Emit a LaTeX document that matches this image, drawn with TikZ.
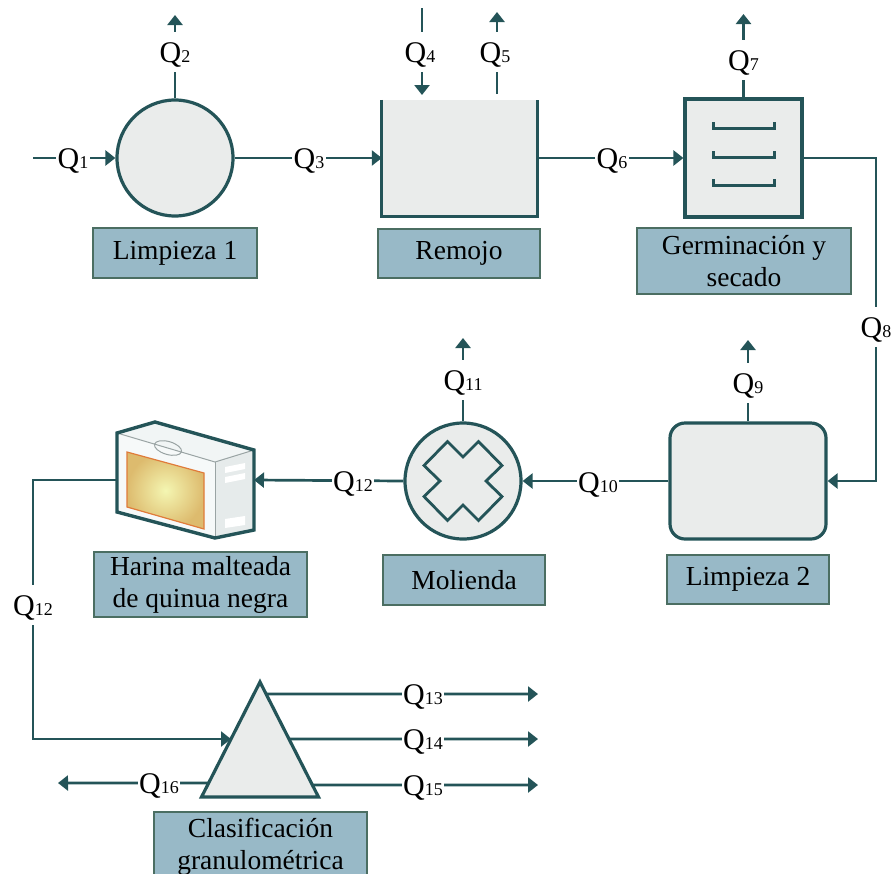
\documentclass[tikz,border=0pt]{standalone}
\usepackage{fontspec}
\setmainfont{Liberation Serif}
\usetikzlibrary{arrows.meta,calc}

\definecolor{flow}{HTML}{245458}
\definecolor{unitfill}{HTML}{EAECEB}
\definecolor{tagfill}{HTML}{98B9C7}
\definecolor{tagedge}{HTML}{4B6E62}
\definecolor{pkgfront}{HTML}{F6F9F9}
\definecolor{pkgtop}{HTML}{F1F5F5}
\definecolor{pkgside}{HTML}{E6EBEB}
\definecolor{pkgedge}{HTML}{9AA4A4}
\definecolor{winedge}{HTML}{E07B3A}
\definecolor{winin}{HTML}{F4F6B2}
\definecolor{winout}{HTML}{DDBB6E}

% flow label: "Q" with a small index on the same baseline
\newcommand\qtag[1]{Q{\fontsize{18}{18}\selectfont #1}}

\tikzset{
  flowline/.style={draw=flow, line width=2.7pt},
  flowarrow/.style={flowline, -{Triangle[length=10pt,width=15pt]}},
  unit/.style={draw=flow, fill=unitfill, line width=3.2pt, inner sep=0pt},
  tag/.style={draw=tagedge, fill=tagfill, line width=1.5pt, inner sep=0pt,
    font=\fontsize{27.5}{32}\selectfont, align=center},
  qlab/.style={fill=white, inner xsep=1.5pt, inner ysep=10pt,
    text height=20pt, text depth=0pt, font=\fontsize{30}{30}\selectfont},
}

\begin{document}
\begin{tikzpicture}[x=1pt,y=-1pt]
\useasboundingbox (0,0) rectangle (896,873);

% ---------- process units ----------
\node[unit, circle, minimum size=116pt] (lim1) at (175,158) {};

\node[fill=unitfill, minimum width=155pt, minimum height=116pt, inner sep=0pt] (rem) at (459.5,158) {};
\draw[draw=flow, line width=3.2pt] (rem.north west) -- (rem.south west) -- (rem.south east) -- (rem.north east);

\node[unit, minimum width=117pt, minimum height=118pt] (germ) at (743.5,158) {};
\foreach \yy in {-30,-1,27}{
  \draw[draw=flow, line width=3pt, shift={(germ.center)}] (-30.5,\yy-6) -- (-30.5,\yy) -- (30.5,\yy) -- (30.5,\yy-6);
}

\node[unit, rounded corners=15pt, minimum width=156pt, minimum height=116pt] (lim2) at (748,481) {};

\node[unit, circle, minimum size=116pt] (mol) at (463,481) {};
\draw[draw=flow, line width=2.8pt, line join=miter, shift={(mol.center)}]
  (-15.5,-39.5) -- (0,-24) -- (15.5,-39.5) -- (39,-15.5) -- (23,0) -- (39,15.5)
  -- (15.5,39.5) -- (0,24) -- (-15.5,39.5) -- (-39,15.5) -- (-23,0) -- (-39,-15.5) -- cycle;

% flour package
\node[inner sep=0pt, outer sep=0pt, minimum width=137pt, minimum height=116pt] (pkg) at (185.5,480) {};
\fill[pkgfront] (117,433) -- (215,462) -- (215,538) -- (117,512) -- cycle;
\fill[pkgtop] (117,433) -- (155,422) -- (254,450) -- (215,462) -- cycle;
\fill[pkgside] (215,462) -- (254,450) -- (254,530) -- (215,538) -- cycle;
\draw[draw=winedge, line width=1.2pt, shading=radial, inner color=winin, outer color=winout]
  (127,452) -- (204,473) -- (204,529) -- (127,507) -- cycle;
\fill[white] (225,467) -- (245,463) -- (245,469) -- (225,473) -- cycle;
\fill[white] (225,477) -- (245,473) -- (245,479) -- (225,483) -- cycle;
\fill[white] (225,519) -- (245,516) -- (245,525) -- (225,528) -- cycle;
\draw[pkgedge, line width=1pt] (117,433) -- (215,462) -- (254,450);
\draw[pkgedge, line width=1pt] (215,462) -- (215,538);
\draw[pkgedge, line width=1pt, rotate around={-16:(168,448)}] (168,448) ellipse [x radius=14, y radius=6.5];
\draw[draw=flow, line width=3.4pt, line join=miter]
  (117,433) -- (155,422) -- (254,450) -- (254,530) -- (215,538) -- (117,512) -- cycle;

% classifier
\coordinate (cA) at (260,682);
\coordinate (cL) at (201.5,797);
\coordinate (cR) at (318.5,797);
\draw[unit, line join=miter] (cA) -- (cR) -- (cL) -- cycle;
\coordinate (cin)  at ($(cA)!0.4957!(cL)$);
\coordinate (c16)  at ($(cA)!0.878!(cL)$);
\coordinate (c13)  at ($(cA)!0.104!(cR)$);
\coordinate (c14)  at ($(cA)!0.4957!(cR)$);
\coordinate (c15)  at ($(cA)!0.896!(cR)$);

% ---------- unit names ----------
\node[tag, minimum width=164pt, minimum height=50pt] (t1) at (175,253) {Limpieza 1};
\node[tag, minimum width=162pt, minimum height=49pt] (t2) at (459,253.5) {Remojo};
\node[tag, minimum width=214pt, minimum height=66pt] (t3) at (744,261) {Germinación y\\secado};
\node[tag, minimum width=162pt, minimum height=49pt] (t4) at (748,579.5) {Limpieza 2};
\node[tag, minimum width=162pt, minimum height=50pt] (t5) at (464,580) {Molienda};
\node[tag, minimum width=213pt, minimum height=65pt] (t6) at (200.5,584.5) {Harina malteada\\de quinua negra};
\node[tag, minimum width=213pt, minimum height=70pt] (t7) at (260.5,847) {Clasificación\\granulométrica};

% ---------- stream ends ----------
\coordinate (s1) at (33,158);
\coordinate (s2) at (175,15);
\coordinate (s4a) at (422,8);
\coordinate (s4b) at (422,95);
\coordinate (s5a) at (497,94);
\coordinate (s5b) at (497,12);
\coordinate (s7) at (743.5,14);
\coordinate (b8) at (876,320);
\coordinate (s9) at (748,340);
\coordinate (s11) at (463,338);
\coordinate (b12) at (33,600);
\coordinate (s13) at (538,694);
\coordinate (s14) at (538,739);
\coordinate (s15) at (538,785);
\coordinate (s16) at (58,783);

% ---------- streams ----------
\draw[flowarrow] (s1) -- (lim1.west);
\draw[flowarrow] (lim1.north) -- (s2);
\draw[flowarrow] (lim1.east) -- (rem.west);
\draw[flowarrow] (s4a) -- (s4b);
\draw[flowarrow] (s5a) -- (s5b);
\draw[flowarrow] (rem.east) -- (germ.west);
\draw[flowarrow] (germ.north) -- (s7);
\draw[flowarrow] (germ.east) -| (b8) |- (lim2.east);
\draw[flowarrow] (lim2.north) -- (s9);
\draw[flowarrow] (lim2.west) -- (mol.east);
\draw[flowarrow] (mol.north) -- (s11);
\draw[flowarrow] (mol.west) -- (pkg.east);
\draw[flowarrow] (pkg.west) -| (b12) |- (cin);
\draw[flowarrow] (c13) -- (s13);
\draw[flowarrow] (c14) -- (s14);
\draw[flowarrow] (c15) -- (s15);
\draw[flowarrow] (c16) -- (s16);

% ---------- stream labels ----------
\node[qlab] (q1) at (73,158) {\qtag{1}};
\node[qlab] (q2) at (175,52) {\qtag{2}};
\node[qlab] (q3) at (309,158) {\qtag{3}};
\node[qlab] (q4) at (420,52) {\qtag{4}};
\node[qlab] (q5) at (495,52) {\qtag{5}};
\node[qlab] (q6) at (612,158) {\qtag{6}};
\node[qlab] (q7) at (743.5,60) {\qtag{7}};
\node[qlab] (q8) at (876,327) {\qtag{8}};
\node[qlab] (q9) at (748,383) {\qtag{9}};
\node[qlab] (q10) at (598,482) {\qtag{10}};
\node[qlab] (q11) at (463,380) {\qtag{11}};
\node[qlab] (q12) at (353,481) {\qtag{12}};
\node[qlab] (q12b) at (33,605) {\qtag{12}};
\node[qlab] (q13) at (423,694) {\qtag{13}};
\node[qlab] (q14) at (423,739) {\qtag{14}};
\node[qlab] (q15) at (423,785) {\qtag{15}};
\node[qlab] (q16) at (159,783) {\qtag{16}};
\end{tikzpicture}
\end{document}
